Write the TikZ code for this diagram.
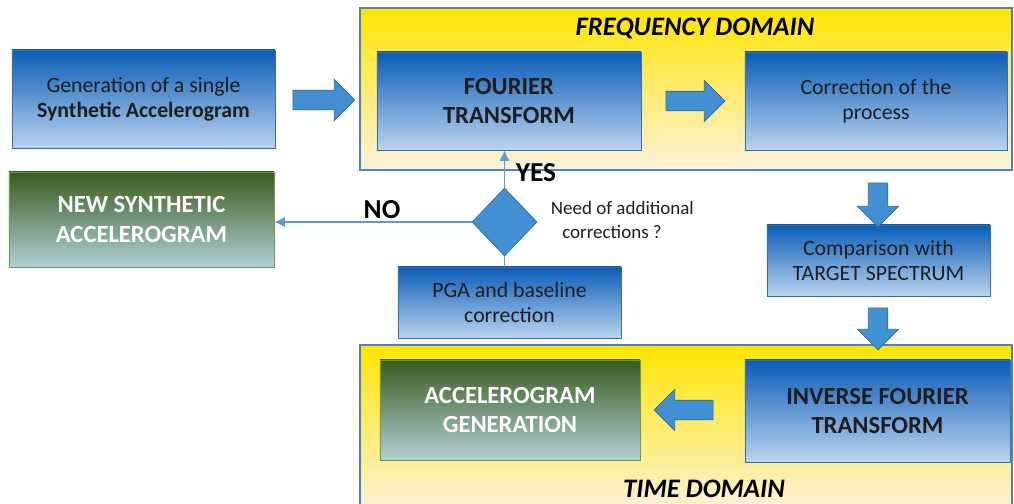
\documentclass[tikz,border=0pt]{standalone}
\usepackage{fontspec}
\setmainfont{Carlito}
\usetikzlibrary{shapes.geometric,shapes.arrows,arrows.meta}

\definecolor{bluetop}{HTML}{0B5CB7}
\definecolor{bluemid}{HTML}{79AEE2}
\definecolor{bluebot}{HTML}{BAD4EF}
\definecolor{boxline}{HTML}{3B6EA8}
\definecolor{greentop}{HTML}{3B5B1F}
\definecolor{greenmid}{HTML}{4B7A2B}
\definecolor{greenbot}{HTML}{B0D0D6}
\definecolor{greenline}{HTML}{6E9A4A}
\definecolor{yellowtop}{HTML}{FFE500}
\definecolor{yellowmid}{HTML}{FFD76A}
\definecolor{yellowbot}{HTML}{FCF2DC}
\definecolor{frameline}{HTML}{4F81BD}
\definecolor{arrowblue}{HTML}{4290D2}
\definecolor{arrowline}{HTML}{2E6AA6}
\definecolor{lineblue}{HTML}{5B9BD5}
\definecolor{textgray}{HTML}{1E1E1E}

\begin{document}
\begin{tikzpicture}[x=0.025cm,y=-0.025cm,
    bluebox/.style={draw=boxline, line width=0.6pt, top color=bluetop, middle color=bluemid, bottom color=bluebot,
        align=center, text=textgray, inner sep=0pt, font=\fontsize{15.5}{18}\selectfont},
    boldbox/.style={font=\fontsize{17.5}{20}\selectfont\bfseries},
    greenbox/.style={draw=greenline, line width=0.6pt, top color=greentop, middle color=greenmid, bottom color=greenbot,
        align=center, text=white, inner sep=0pt, font=\fontsize{17.5}{21}\selectfont\bfseries},
    domainframe/.style={draw=frameline, line width=1.2pt, top color=yellowtop, middle color=yellowmid, bottom color=yellowbot, inner sep=0pt},
    bigarrow/.style={single arrow, draw=arrowline, fill=arrowblue, line width=0.5pt, inner xsep=0pt, inner ysep=0.235cm,
        single arrow head extend=0.27cm, single arrow head indent=0pt},
    thinarrow/.style={draw=lineblue, line width=1pt, -{Latex[length=2.6mm,width=2.6mm]}}
]
    \useasboundingbox (0,0) rectangle (1014,504);

    % the two domains
    \node[domainframe, minimum width=16.3cm, minimum height=4.05cm] (freq) at (686,89) {};
    \node[domainframe, minimum width=16.3cm, minimum height=4.175cm] (time) at (686,428.5) {};
    \node[font=\fontsize{19}{22}\selectfont\bfseries\itshape] (freqtitle) at (695,28) {FREQUENCY DOMAIN};
    \node[font=\fontsize{19}{22}\selectfont\bfseries\itshape] (timetitle) at (704,489) {TIME DOMAIN};

    % boxes
    \node[bluebox, minimum width=6.575cm, minimum height=2.45cm] (gen) at (143.5,99) {Generation of a single\\\textbf{Synthetic Accelerogram}};
    \node[bluebox, boldbox, minimum width=6.6cm, minimum height=2.45cm] (fourier) at (509,101) {FOURIER\\TRANSFORM};
    \node[bluebox, minimum width=6.55cm, minimum height=2.45cm] (corr) at (876,101) {Correction of the\\process};
    \node[bluebox, minimum width=5.575cm, minimum height=1.775cm] (comp) at (878.5,260.5) {Comparison with\\TARGET SPECTRUM};
    \node[bluebox, boldbox, minimum width=6.625cm, minimum height=2.55cm] (inv) at (877.5,411) {INVERSE FOURIER\\TRANSFORM};
    \node[greenbox, minimum width=6.5cm, minimum height=2.5cm] (accel) at (510,410) {ACCELEROGRAM\\GENERATION};
    \node[greenbox, minimum width=6.625cm, minimum height=2.375cm] (newsynth) at (141.5,219.5) {NEW SYNTHETIC\\ACCELEROGRAM};
    \node[bluebox, minimum width=5.575cm, minimum height=1.775cm] (pga) at (509.5,302.5) {PGA and baseline\\correction};
    \node[diamond, draw=arrowline, fill=arrowblue, line width=0.5pt, inner sep=0pt, minimum width=1.625cm, minimum height=1.7cm] (need) at (504.5,222) {};

    % block arrows
    \node[bigarrow, minimum height=1.55cm] (a1) at (319,100) {};
    \node[bigarrow, minimum height=1.475cm] (a2) at (690.5,101) {};
    \node[bigarrow, minimum height=1.1cm, rotate=-90] (a3) at (878,200) {};
    \node[bigarrow, minimum height=1.05cm, rotate=-90] (a4) at (878,324) {};
    \node[bigarrow, minimum height=1.475cm, rotate=180] (a5) at (688.5,410) {};

    % decision
    \draw[lineblue, line width=1pt] (need.south) -- (need.south |- pga.north);
    \draw[thinarrow] (need.north) -- (need.north |- fourier.south);
    \draw[thinarrow] (need.west) -- (need.west -| newsynth.east);
    \node[font=\fontsize{19.5}{22}\selectfont\bfseries] (no) at (382,210) {NO};
    \node[font=\fontsize{19.5}{22}\selectfont\bfseries] (yes) at (536,173) {YES};
    \node[anchor=west, align=left, text=textgray, font=\fontsize{13.5}{17}\selectfont] (needtext) at (546,220) {Need of additional\\\hspace{0.6em}corrections ?};
\end{tikzpicture}
\end{document}
